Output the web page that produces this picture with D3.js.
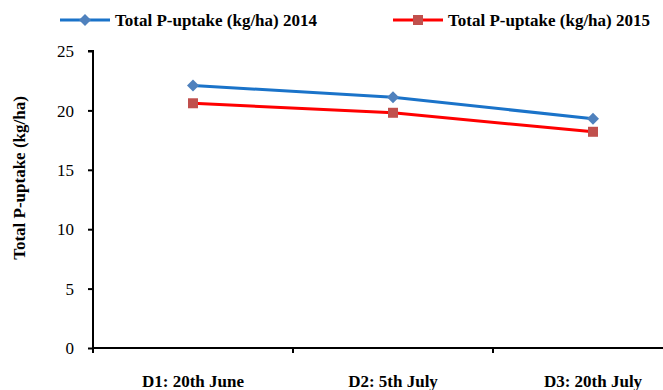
<!DOCTYPE html>
<html>
<head>
<meta charset="utf-8">
<script src="https://cdn.jsdelivr.net/npm/d3@7"></script>
<style>
  html, body { margin: 0; padding: 0; background: #fff; }
  svg { display: block; }
</style>
</head>
<body>
<svg id="chart" width="663" height="390" font-family="Liberation Serif, DejaVu Serif, serif"></svg>
<script>
// Sowing dates and total P-uptake per season (kg/ha)
const categories = ["D1: 20th June", "D2: 5th July", "D3: 20th July"];
const uptake2014 = [22.1, 21.1, 19.3];
const uptake2015 = [20.6, 19.8, 18.2];
const yTicks = [0, 5, 10, 15, 20, 25];
const seriesNames = ["Total P-uptake (kg/ha) 2014", "Total P-uptake (kg/ha) 2015"];
const yTitle = "Total P-uptake (kg/ha)";

const FONT = "Liberation Serif, DejaVu Serif, serif";
const svg = d3.select("#chart");
const W = 663, H = 390;
const plot = { left: 93, top: 51, bottom: 348, right: 693 };

const x = d3.scaleBand().domain(categories).range([plot.left, plot.right]).padding(0);
const y = d3.scaleLinear().domain([0, 25]).range([plot.bottom, plot.top]);

const series = [
  { name: seriesNames[0], values: uptake2014, line: "#1a73c9", marker: "#4f81bd", shape: "diamond" },
  { name: seriesNames[1], values: uptake2015, line: "#ff0000", marker: "#c0504d", shape: "square" }
];

// Y axis
const yAxis = d3.axisLeft(y).tickValues(yTicks).tickSize(5).tickPadding(14).tickFormat(d3.format("d"));
const gy = svg.append("g").attr("transform", `translate(${plot.left},0)`).call(yAxis);
gy.attr("font-family", FONT).attr("font-size", 17);
gy.select(".domain").attr("stroke", "#000").attr("stroke-width", 2).attr("d", `M-5,${plot.top}H0V${plot.bottom}`);
gy.selectAll(".tick line").attr("stroke", "#000").attr("stroke-width", 2);
gy.selectAll(".tick text").attr("font-family", FONT).attr("fill", "#000").attr("dy", "0.34em");

// X axis: ticks sit on category boundaries
const gx = svg.append("g");
gx.append("line")
  .attr("x1", plot.left - 1).attr("x2", W)
  .attr("y1", plot.bottom).attr("y2", plot.bottom)
  .attr("stroke", "#000").attr("stroke-width", 2);
gx.selectAll("line.tk")
  .data(categories)
  .join("line")
  .attr("class", "tk")
  .attr("x1", d => x(d)).attr("x2", d => x(d))
  .attr("y1", plot.bottom).attr("y2", plot.bottom + 5)
  .attr("stroke", "#000").attr("stroke-width", 2);
gx.selectAll("text")
  .data(categories)
  .join("text")
  .attr("x", d => x(d) + x.bandwidth() / 2)
  .attr("y", 387)
  .attr("text-anchor", "middle")
  .attr("font-family", FONT)
  .attr("font-size", 17)
  .attr("font-weight", "bold")
  .text(d => d);

// Y axis title
svg.append("text")
  .attr("transform", `translate(25,178) rotate(-90)`)
  .attr("text-anchor", "middle")
  .attr("font-family", FONT)
  .attr("font-size", 17)
  .attr("font-weight", "bold")
  .text(yTitle);

// Lines and markers
const line = d3.line()
  .x((d, i) => x(categories[i]) + x.bandwidth() / 2)
  .y(d => y(d));

function drawMarker(g, shape, color, cx, cy) {
  if (shape === "diamond") {
    g.append("path")
      .attr("d", `M${cx},${cy - 6}L${cx + 6},${cy}L${cx},${cy + 6}L${cx - 6},${cy}Z`)
      .attr("fill", color);
  } else {
    g.append("rect")
      .attr("x", cx - 5).attr("y", cy - 5)
      .attr("width", 10).attr("height", 10)
      .attr("fill", color);
  }
}

series.forEach(s => {
  svg.append("path")
    .datum(s.values)
    .attr("d", line)
    .attr("fill", "none")
    .attr("stroke", s.line)
    .attr("stroke-width", 3);
  const g = svg.append("g");
  s.values.forEach((v, i) => {
    drawMarker(g, s.shape, s.marker, x(categories[i]) + x.bandwidth() / 2, y(v));
  });
});

// Legend
const legendX = [60, 393];
series.forEach((s, i) => {
  const g = svg.append("g").attr("transform", `translate(${legendX[i]},20)`);
  g.append("line").attr("x1", 0).attr("x2", 50).attr("y1", 0).attr("y2", 0)
    .attr("stroke", s.line).attr("stroke-width", 3);
  drawMarker(g, s.shape, s.marker, 25, 0);
  g.append("text")
    .attr("x", 55).attr("y", 6)
    .attr("font-family", FONT)
    .attr("font-size", 17)
    .attr("font-weight", "bold")
    .text(s.name);
});
</script>
</body>
</html>
